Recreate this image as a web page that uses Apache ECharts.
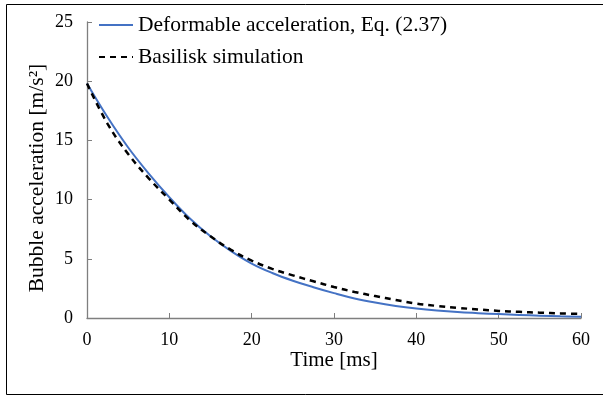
<!DOCTYPE html>
<html>
<head>
<meta charset="utf-8">
<script src="https://cdn.jsdelivr.net/npm/echarts@6/dist/echarts.min.js"></script>
<style>
html,body{margin:0;padding:0;background:#fff;}
#chart{width:603px;height:396px;}
</style>
</head>
<body>
<div id="chart"></div>
<script>
var timeMs = [0, 2.5, 5, 7.5, 10, 12.5, 15, 17.5, 20, 22.5, 25, 27.5, 30, 32.5, 35, 37.5, 40, 42.5, 45, 47.5, 50, 52.5, 55, 57.5, 60];
var deformable = [19.8, 16.95, 14.4, 12.2, 10.2, 8.4, 6.9, 5.65, 4.6, 3.8, 3.15, 2.6, 2.1, 1.65, 1.3, 1.02, 0.8, 0.63, 0.5, 0.41, 0.33, 0.26, 0.2, 0.15, 0.11];
var basilisk = [19.8, 16.4, 13.85, 11.8, 10.0, 8.25, 6.9, 5.75, 4.85, 4.15, 3.6, 3.1, 2.62, 2.2, 1.85, 1.52, 1.22, 1.02, 0.86, 0.72, 0.6, 0.52, 0.45, 0.39, 0.34];
var xTicks = [0, 10, 20, 30, 40, 50, 60];
var yTicks = [0, 5, 10, 15, 20, 25];

function pairs(ys){ return timeMs.map(function(t,i){ return [t, ys[i]]; }); }

var font = 'Liberation Serif';
var chart = echarts.init(document.getElementById('chart'), null, {renderer:'canvas'});
chart.setOption({
  animation:false,
  backgroundColor:'#ffffff',
  textStyle:{fontFamily:font},
  grid:{left:87, right:22, top:22, bottom:78, containLabel:false},
  graphic:[{type:'rect', shape:{x:6.5, y:4.5, width:600, height:390}, style:{fill:'none', stroke:'#000', lineWidth:1}, silent:true, z:-1}],
  legend:{
    orient:'vertical', left:93, top:9, itemWidth:34, itemHeight:14, itemGap:10,
    itemStyle:{color:'rgba(0,0,0,0)', borderWidth:0},
    textStyle:{fontFamily:font, fontSize:21.5, color:'#000'},
    data:['Deformable acceleration, Eq. (2.37)','Basilisk simulation']
  },
  xAxis:{
    type:'value', min:xTicks[0], max:xTicks[xTicks.length-1], interval:10,
    name:'Time [ms]', nameLocation:'middle', nameGap:32, nameMoveOverlap:false,
    nameTextStyle:{fontFamily:font, fontSize:21, color:'#000'},
    axisLine:{lineStyle:{color:'#7f7f7f', width:1.3}},
    axisTick:{inside:true, length:5, lineStyle:{color:'#7f7f7f'}},
    axisLabel:{fontFamily:font, fontSize:18, color:'#000', margin:13},
    splitLine:{show:false}
  },
  yAxis:{
    type:'value', min:yTicks[0], max:yTicks[yTicks.length-1], interval:5,
    name:'Bubble acceleration [m/s²]', nameLocation:'middle', nameGap:39, nameMoveOverlap:false,
    nameTextStyle:{fontFamily:font, fontSize:21.5, color:'#000', padding:[0,16,0,0]},
    axisLine:{show:true, lineStyle:{color:'#7f7f7f', width:1.3}},
    axisTick:{show:true, inside:true, length:5, lineStyle:{color:'#7f7f7f'}},
    axisLabel:{fontFamily:font, fontSize:18, color:'#000', margin:14},
    splitLine:{show:false}
  },
  series:[
    {name:'Deformable acceleration, Eq. (2.37)', type:'line', data:pairs(deformable), smooth:0.4, symbol:'none',
     lineStyle:{color:'#4472C4', width:2}, itemStyle:{color:'#4472C4'}, z:2},
    {name:'Basilisk simulation', type:'line', data:pairs(basilisk), smooth:0.4, symbol:'none',
     lineStyle:{color:'#000', width:2.5, type:[6,5]}, itemStyle:{color:'#000'}, z:3}
  ]
});
</script>
</body>
</html>
